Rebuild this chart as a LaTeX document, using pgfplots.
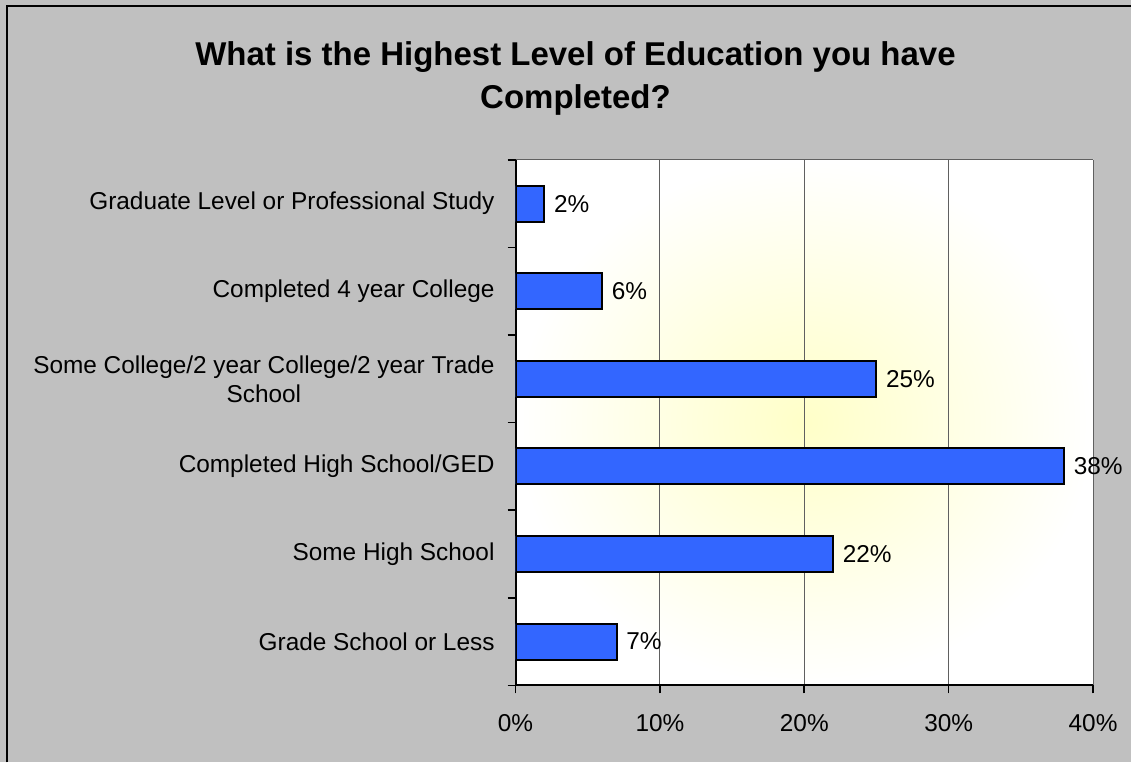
\documentclass[border=0pt]{standalone}
\usepackage{pgfplots}
\pgfplotsset{compat=1.18}
\usepackage{fontspec}
\setmainfont{Liberation Sans}
\definecolor{bgGray}{HTML}{C0C0C0}
\definecolor{barBlue}{HTML}{3366FF}
\definecolor{glow}{HTML}{FFFFC8}
\definecolor{gridGray}{HTML}{606060}

\begin{document}
\begin{tikzpicture}
% canvas: 1px = 0.5pt, origin at top-left
\fill[bgGray] (0,0) rectangle (566pt,-381.5pt);
\draw[black, line width=1pt] (3.5pt,-381.5pt) -- (3.5pt,-3pt) -- (566pt,-3pt);
\useasboundingbox (0,0) rectangle (566pt,-381.5pt);
\node[font=\bfseries\fontsize{16.5}{21.5}\selectfont, align=center] at (288pt,-39.5pt)
  {What is the Highest Level of Education you have\\Completed?};
\begin{axis}[
  at={(258pt,-343pt)}, anchor=south west,
  scale only axis, width=289pt, height=263pt,
  xbar, bar width=18pt,
  xmin=0, xmax=40, ymin=-0.5, ymax=5.5,
  axis x line*=bottom, axis y line*=left,
  axis line style={black, line width=1pt},
  /pgf/number format/assume math mode=true,
  xtick={0,10,20,30,40},
  xticklabel={\pgfmathprintnumber{\tick}\%},
  ytick={0,1,2,3,4,5},
  yticklabels={Grade School or Less, Some High School, Completed High School/GED,
    {Some College/2 year College/2 year Trade\\School}, Completed 4 year College,
    Graduate Level or Professional Study},
  minor ytick={-0.5,0.5,1.5,2.5,3.5,4.5,5.5},
  major y tick style={draw=none},
  tick align=outside,
  major tick length=4pt, minor tick length=4pt,
  tick style={black, line width=0.8pt},
  xmajorgrids, grid style={gridGray, line width=0.5pt},
  ticklabel style={font=\fontsize{12.2}{14.5}\selectfont},
  yticklabel style={align=center, xshift=-3pt},
  xticklabel style={yshift=-7pt},
  axis background/.style={shade, shading=radial, inner color=glow, outer color=white},
  nodes near coords={\pgfmathprintnumber{\pgfplotspointmeta}\%},
  every node near coord/.append style={font=\fontsize{12.2}{14.5}\selectfont, anchor=west, xshift=1pt},
]
\addplot[fill=barBlue, draw=black, line width=1pt] coordinates {
  (7,0) (22,1) (38,2) (25,3) (6,4) (2,5)};
\draw[gridGray, line width=0.5pt] (rel axis cs:0,1) -- (rel axis cs:1,1);
\end{axis}
\end{tikzpicture}
\end{document}
